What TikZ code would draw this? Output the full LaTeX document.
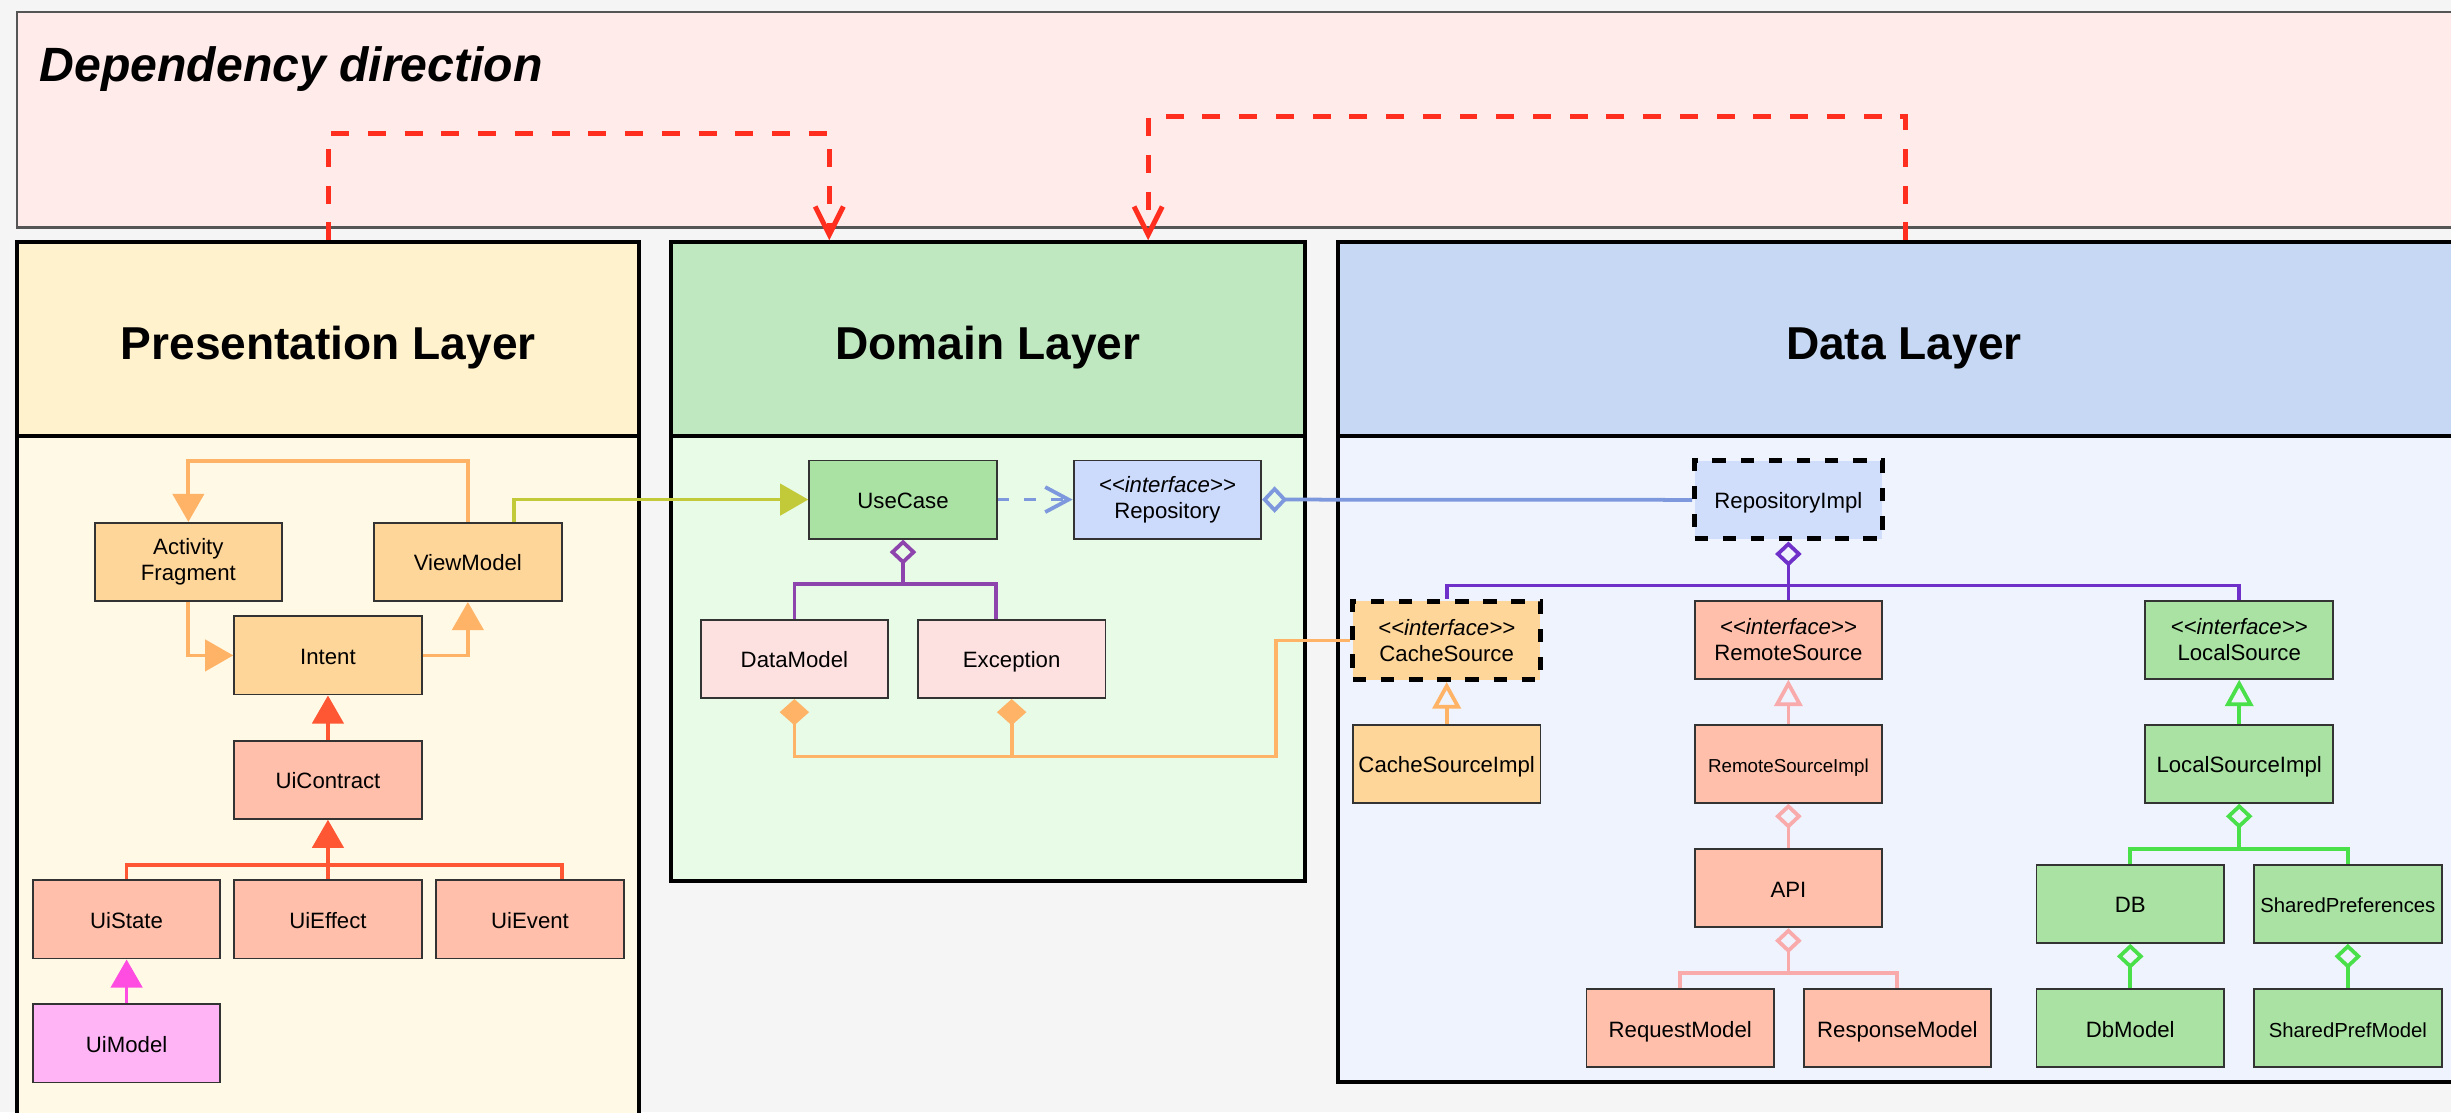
\documentclass[tikz,border=0pt]{standalone}
\usepackage{fontspec}
\setmainfont{Liberation Sans}
\usetikzlibrary{arrows.meta,calc}
\definecolor{bgc}{HTML}{F5F5F5}
\definecolor{topF}{HTML}{FFEBE9}
\definecolor{topD}{HTML}{555555}
\definecolor{presH}{HTML}{FFF2CC}
\definecolor{presB}{HTML}{FFF9E6}
\definecolor{domH}{HTML}{C0E8C0}
\definecolor{domB}{HTML}{E7FBE7}
\definecolor{dataH}{HTML}{C6D8F4}
\definecolor{dataB}{HTML}{EEF3FE}
\definecolor{ndraw}{HTML}{333333}
\definecolor{cOr}{HTML}{FFD699}
\definecolor{cSal}{HTML}{FFBFAA}
\definecolor{cMagF}{HTML}{FFB5F5}
\definecolor{gF}{HTML}{A9E2A3}
\definecolor{bF}{HTML}{CCDAFC}
\definecolor{bF2}{HTML}{D0DDFB}
\definecolor{rF}{HTML}{FDE0E0}
\definecolor{lOr}{HTML}{FFB366}
\definecolor{lRed}{HTML}{FF5733}
\definecolor{lMag}{HTML}{FF4DE1}
\definecolor{lOlive}{HTML}{C3CA3A}
\definecolor{lBlue}{HTML}{7E98DD}
\definecolor{lPur}{HTML}{8E44AD}
\definecolor{lPur2}{HTML}{6F2FC9}
\definecolor{lPink}{HTML}{F9AAAA}
\definecolor{lGreen}{HTML}{4AE04A}
\definecolor{depred}{HTML}{FF2E1F}
\newcommand{\iface}{\textit{<\kern0pt<interface>\kern0pt>}}
\begin{document}
\begin{tikzpicture}[x=0.5pt,y=-0.5pt,
  nd/.style={draw=ndraw,line width=0.6pt,minimum width=60pt,minimum height=25pt,inner sep=0pt,font=\fontsize{7.1}{8.5}\selectfont,text height=5.7pt,text depth=0pt},
  nd2/.style={draw=ndraw,line width=0.6pt,minimum width=60pt,minimum height=25pt,inner sep=0pt,font=\fontsize{7.1}{8.5}\selectfont,align=center},
  dashednd/.style={draw=black,line width=1.6pt,dash pattern=on 4.3pt off 4.7pt},
  layer/.style={draw=black,line width=1.3pt,inner sep=0pt},
  hdr/.style={layer,font=\fontsize{14.75}{17}\selectfont\bfseries,text height=13pt,text depth=0pt},
  conn/.style={line width=1.2pt},
  ftri/.style={-{Triangle[length=9pt,width=10pt]}},
  htri/.style={-{Triangle[open,length=8.5pt,width=9pt]}},
  hdia/.style={{Diamond[open,length=8pt,width=8.5pt]}-},
  fdia/.style={{Diamond[length=8.4pt,width=9.4pt]}-},
  vopen/.style={-{Straight Barb[length=7.5pt,width=8pt]}},
  dep/.style={draw=depred,line width=1.6pt,dash pattern=on 5.75pt off 6pt,-{Straight Barb[length=9pt,width=9pt]}},
]
\useasboundingbox (0,0) rectangle (1568,711.4);
\clip (0,0) rectangle (1568,711.4);
\fill[bgc] (0,0) rectangle (1568,711.4);

% top box
\node[draw=topD,fill=topF,line width=0.7pt,minimum width=794.5pt,minimum height=69.05pt,inner sep=0pt] (top) at (805.5,76.55) {};
\node[anchor=base west,inner sep=0pt,font=\fontsize{15.4}{18}\selectfont\bfseries\itshape] (deptitle) at (25,52.3) {Dependency direction};

% layers
\node[layer,fill=presB,minimum width=199pt,minimum height=230.5pt] (presBody) at (210,509.5) {};
\node[hdr,fill=presH,minimum width=199pt,minimum height=62pt] (presHd) at (210,217) {Presentation Layer};
\node[layer,fill=domB,minimum width=203pt,minimum height=142.3pt] (domBody) at (632,421.3) {};
\node[hdr,fill=domH,minimum width=203pt,minimum height=62pt] (domHd) at (632,217) {Domain Layer};
\node[layer,fill=dataB,minimum width=362pt,minimum height=206.6pt] (dataBody) at (1218,485.6) {};
\node[hdr,fill=dataH,minimum width=362pt,minimum height=62pt] (dataHd) at (1218,217) {Data Layer};

% presentation nodes
\node[nd2,fill=cOr] (act) at (120.5,359.5) {Activity\\Fragment};
\node[nd,fill=cOr] (vm) at (299.3,359.5) {ViewModel};
\node[nd,fill=cOr] (intent) at (209.8,419.3) {Intent};
\node[nd,fill=cSal] (uic) at (209.8,498.8) {UiContract};
\node[nd,fill=cSal] (uis) at (81,588.2) {UiState};
\node[nd,fill=cSal] (uief) at (209.8,588.2) {UiEffect};
\node[nd,fill=cSal] (uiev) at (339.1,588.2) {UiEvent};
\node[nd,fill=cMagF] (uim) at (81,667.5) {UiModel};

% domain nodes
\node[nd,fill=gF] (uc) at (577.7,319.6) {UseCase};
\node[nd2,fill=bF] (repo) at (746.8,319.6) {\iface\\Repository};
\node[nd,fill=rF] (dm) at (508.2,421.6) {DataModel};
\node[nd,fill=rF] (exc) at (647.2,421.6) {Exception};

% data nodes
\node[nd,dashednd,fill=bF2] (rimpl) at (1144.1,319.8) {RepositoryImpl};
\node[nd2,dashednd,fill=cOr] (cache) at (925.5,409.7) {\iface\\CacheSource};
\node[nd2,fill=cSal] (remote) at (1144.1,409.2) {\iface\\RemoteSource};
\node[nd2,fill=gF] (local) at (1432.5,409.2) {\iface\\LocalSource};
\node[nd,fill=cOr] (cimpl) at (925.5,488.6) {CacheSourceImpl};
\node[nd,fill=cSal,font=\fontsize{6}{7}\selectfont] (rsimpl) at (1144.1,488.6) {RemoteSourceImpl};
\node[nd,fill=gF] (lsimpl) at (1432.5,488.6) {LocalSourceImpl};
\node[nd,fill=cSal] (api) at (1144.1,568.2) {API};
\node[nd,fill=gF] (db) at (1362.8,578.2) {DB};
\node[nd,fill=gF,font=\fontsize{6.5}{7.5}\selectfont] (sp) at (1502,578.2) {SharedPreferences};
\node[nd,fill=cSal] (req) at (1074.9,657.8) {RequestModel};
\node[nd,fill=cSal] (resp) at (1213.8,657.8) {ResponseModel};
\node[nd,fill=gF] (dbm) at (1362.8,657.8) {DbModel};
\node[nd,fill=gF,font=\fontsize{6.5}{7.5}\selectfont] (spm) at (1502,657.8) {SharedPrefModel};

% junction coordinates
\coordinate (cj) at (209.8,553.3);
\coordinate (pj) at (577.7,373.8);
\coordinate (oj) at (816.3,484);
\coordinate (dj) at (1144.1,374.6);
\coordinate (aj) at (1144.1,622.5);
\coordinate (lj) at (1432.5,543);

% presentation connectors
\draw[conn,lOr,ftri] (vm.north) -- ++(0,-39) -| (act.north);
\draw[conn,lOr,ftri] (act.south) |- (intent.west);
\draw[conn,lOr,ftri] (intent.east) -| (vm.south);
\draw[conn,lRed,ftri] (uic.north) -- (intent.south);
\draw[conn,lRed,ftri] (uief.north) -- (uic.south);
\draw[conn,lRed] (uis.north) |- (cj) -| ($(uiev.north)+(20.4,0)$);
\draw[conn,lMag,ftri] (uim.north) -- (uis.south);
\draw[conn,lOlive,ftri] ($(vm.north)+(29.7,0)$) |- (uc.west);

% domain connectors
\draw[conn,lBlue,dash pattern=on 3.75pt off 4.8pt,vopen] (uc.east) -- (repo.west);
\draw[conn,lPur,hdia] (uc.south) -- (pj);
\draw[conn,lPur] (dm.north) |- (pj) -| ($(exc.north)+(-9.8,0)$);
\draw[conn,lOr,fdia] (dm.south) |- (oj) |- (cache.west);
\draw[conn,lOr,fdia] (exc.south) -- (exc.south |- oj);
\draw[conn,lBlue,hdia] (repo.east) -- (rimpl.west);

% data connectors
\draw[conn,lPur2,hdia] (rimpl.south) -- (dj);
\draw[conn,lPur2] (cache.north) |- (dj) -| (local.north);
\draw[conn,lPur2] (dj) -- (remote.north);
\draw[conn,lOr,htri] (cimpl.north) -- (cache.south);
\draw[conn,lPink,htri] (rsimpl.north) -- (remote.south);
\draw[conn,lGreen,htri] (lsimpl.north) -- (local.south);
\draw[conn,lPink,hdia] (rsimpl.south) -- (api.north);
\draw[conn,lPink,hdia] (api.south) -- (aj);
\draw[conn,lPink] (req.north) |- (aj) -| (resp.north);
\draw[conn,lGreen,hdia] (lsimpl.south) -- (lj);
\draw[conn,lGreen] (db.north) |- (lj) -| (sp.north);
\draw[conn,lGreen,hdia] (db.south) -- (dbm.north);
\draw[conn,lGreen,hdia] (sp.south) -- (spm.north);

% dependency direction
\draw[dep] (presHd.north) -- ++(0,-68.6) -| ($(domHd.north)+(-101.5,0)$);
\draw[dep] ($(dataHd.north)+(0.8,0)$) -- ++(0,-78.9) -| ($(domHd.north)+(102.5,0)$);
\end{tikzpicture}
\end{document}
